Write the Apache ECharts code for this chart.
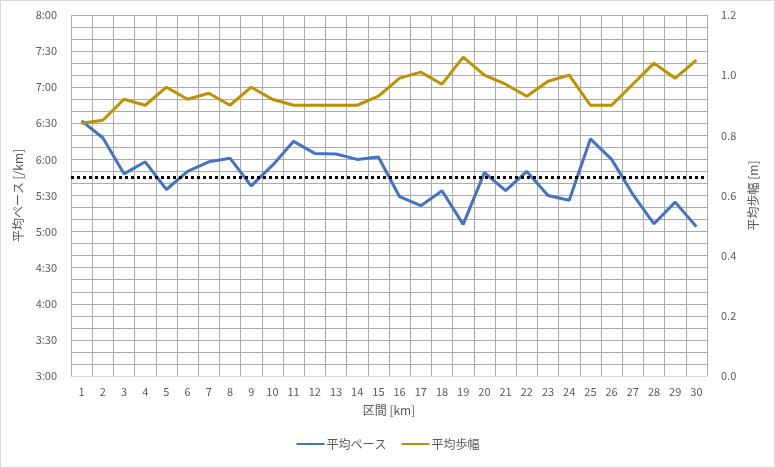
<!DOCTYPE html>
<html>
<head>
<meta charset="utf-8">
<script src="https://cdn.jsdelivr.net/npm/echarts@6/dist/echarts.min.js"></script>
<style>
  html, body { margin: 0; padding: 0; background: #fff; }
  #main { width: 773px; height: 466px; border: 1px solid #d9d9d9; }
</style>
</head>
<body>
<div id="main"></div>
<script>
// 区間 (km)
var sections = [];
for (var i = 1; i <= 30; i++) sections.push(String(i));

// 平均ペース, minutes per km
var pace = [392, 378, 348, 358, 335, 350, 358, 361, 338, 355,
            375, 365, 364.5, 360, 362, 329, 321.5, 334, 306, 349,
            334, 350, 330, 326, 377, 360, 331, 306.5, 324.5, 304];
// 平均歩幅, m
var stride = [0.84, 0.85, 0.92, 0.90, 0.96, 0.92, 0.94, 0.90, 0.96, 0.92,
              0.90, 0.90, 0.90, 0.90, 0.93, 0.99, 1.01, 0.97, 1.06, 1.00,
              0.97, 0.93, 0.98, 1.00, 0.90, 0.90, 0.97, 1.04, 0.99, 1.05];
var avgPace = 345;

function fmtPace(v) {
  var m = Math.floor(v / 60), s = Math.round(v % 60);
  return m + ':' + (s < 10 ? '0' : '') + s;
}

var font = '"Noto Sans CJK JP", sans-serif';
var grey = '#595959';

var myChart = echarts.init(document.getElementById('main'));
var option = {
  animation: false,
  textStyle: { fontFamily: font },
  grid: { left: 70, right: 67, top: 14, bottom: 91 },
  legend: {
    bottom: 12,
    left: 'center',
    itemWidth: 28,
    itemHeight: 3,
    itemGap: 14,
    textStyle: { fontSize: 12, color: grey, fontFamily: font, padding: [0, 0, 0, -3] },
    data: ['平均ペース', '平均歩幅']
  },
  xAxis: {
    type: 'category',
    data: sections,
    name: '区間 [km]',
    nameLocation: 'middle',
    nameGap: 28,
    nameTextStyle: { fontSize: 12, color: grey },
    axisLine: { lineStyle: { color: '#d9d9d9' } },
    axisTick: { show: false },
    axisLabel: { fontSize: 11, color: grey, margin: 10, interval: 0 },
    splitLine: { show: true, lineStyle: { color: '#ababab' } }
  },
  yAxis: [
    {
      type: 'value',
      min: 180,
      max: 480,
      interval: 30,
      name: '平均ペース [/km]',
      nameLocation: 'middle',
      nameGap: 37,
      nameTextStyle: { fontSize: 12, color: grey },
      axisLabel: { fontSize: 11, color: grey, margin: 14, formatter: fmtPace },
      splitLine: { lineStyle: { color: '#ababab' } },
      minorTick: { show: false, splitNumber: 3 },
      minorSplitLine: { show: true, lineStyle: { color: '#ababab' } }
    },
    {
      type: 'value',
      min: 0,
      max: 1.2,
      interval: 0.2,
      name: '平均歩幅 [m]',
      nameLocation: 'middle',
      nameGap: 34,
      nameTextStyle: { fontSize: 12, color: grey },
      axisLabel: { fontSize: 11, color: grey, margin: 14, formatter: function (v) { return v.toFixed(1); } },
      splitLine: { show: false }
    }
  ],
  series: [
    {
      name: '平均ペース',
      type: 'line',
      yAxisIndex: 0,
      data: pace,
      symbol: 'none',
      lineStyle: { color: '#4472C4', width: 3 },
      itemStyle: { color: '#4472C4' },
      markLine: {
        silent: true,
        symbol: 'none',
        label: { show: false },
        lineStyle: { color: '#000', width: 3, type: [3, 3] },
        data: [{ yAxis: avgPace }]
      }
    },
    {
      name: '平均歩幅',
      type: 'line',
      yAxisIndex: 1,
      data: stride,
      symbol: 'none',
      lineStyle: { color: '#BF9000', width: 3 },
      itemStyle: { color: '#BF9000' }
    }
  ]
};
myChart.setOption(option);
</script>
</body>
</html>
